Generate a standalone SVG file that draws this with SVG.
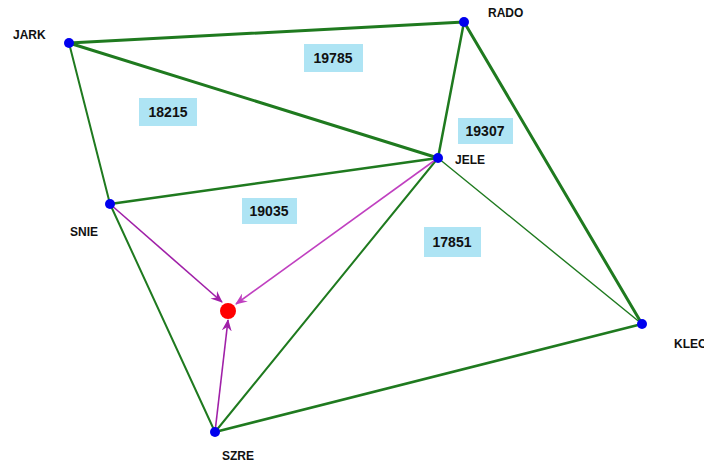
<svg xmlns="http://www.w3.org/2000/svg" width="704" height="464" viewBox="0 0 704 464">
<style>
.e{stroke:#1f7a1f;fill:none;stroke-linecap:round}
.a{fill:none;stroke-width:1.6}
.n{fill:#0000ee}
.lbl{font-family:"Liberation Sans",Arial,sans-serif;font-weight:bold;font-size:12px;fill:#111}
.box{fill:#aee4f4}
.num{font-family:"Liberation Sans",Arial,sans-serif;font-weight:bold;font-size:14px;fill:#111;text-anchor:middle}
</style>
<defs>
<marker id="ah" viewBox="0 0 12 10" refX="11" refY="5" markerWidth="12" markerHeight="10" markerUnits="userSpaceOnUse" orient="auto">
<path d="M0,0 L12,5 L0,10 L4,5 z" fill="context-stroke"/>
</marker>
<marker id="ah1" viewBox="0 0 12 10" refX="11" refY="5" markerWidth="12" markerHeight="10" markerUnits="userSpaceOnUse" orient="auto">
<path d="M0,0 L12,5 L0,10 L4,5 z" fill="#a020a8"/>
</marker>
<marker id="ah2" viewBox="0 0 12 10" refX="11" refY="5" markerWidth="12" markerHeight="10" markerUnits="userSpaceOnUse" orient="auto">
<path d="M0,0 L12,5 L0,10 L4,5 z" fill="#c040c0"/>
</marker>
</defs>
<rect width="704" height="464" fill="#fff"/>
<g id="areas">
<g id="a18215"><rect class="box" x="139" y="98" width="58" height="28"/><text class="num" x="168" y="117">18215</text></g>
<g id="a19785"><rect class="box" x="304" y="44" width="59" height="28"/><text class="num" x="333" y="63">19785</text></g>
<g id="a19307"><rect class="box" x="458" y="118" width="55" height="26"/><text class="num" x="485" y="136">19307</text></g>
<g id="a19035"><rect class="box" x="242" y="198" width="55" height="26"/><text class="num" x="269" y="216">19035</text></g>
<g id="a17851"><rect class="box" x="424" y="227" width="57" height="30"/><text class="num" x="452" y="247">17851</text></g>
</g>
<g id="connectors">
<line class="e" x1="69" y1="43" x2="464" y2="22" stroke-width="3"/>
<line class="e" x1="69" y1="43" x2="438" y2="158" stroke-width="3"/>
<line class="e" x1="69" y1="43" x2="110" y2="204" stroke-width="2"/>
<line class="e" x1="110" y1="204" x2="438" y2="158" stroke-width="2.5"/>
<line class="e" x1="464" y1="22" x2="438" y2="158" stroke-width="2.5"/>
<line class="e" x1="464" y1="22" x2="642" y2="324" stroke-width="3"/>
<line class="e" x1="438" y1="158" x2="642" y2="324" stroke-width="1.4"/>
<line class="e" x1="438" y1="158" x2="215" y2="432" stroke-width="2"/>
<line class="e" x1="110" y1="204" x2="215" y2="432" stroke-width="2"/>
<line class="e" x1="215" y1="432" x2="642" y2="324" stroke-width="2.5"/>
<line class="a" x1="110" y1="204" x2="222" y2="302" stroke="#a020a8" marker-end="url(#ah1)"/>
<line class="a" x1="438" y1="158" x2="236" y2="304" stroke="#c040c0" marker-end="url(#ah2)"/>
<line class="a" x1="215" y1="432" x2="228" y2="320" stroke="#a020a8" marker-end="url(#ah1)"/>
</g>
<g id="target"><circle cx="228" cy="311" r="8" fill="#ff0000"/></g>
<g id="JARK"><circle class="n" cx="69" cy="43" r="5"/><text class="lbl" x="13" y="39">JARK</text></g>
<g id="RADO"><circle class="n" cx="464" cy="22" r="5"/><text class="lbl" x="488" y="17">RADO</text></g>
<g id="JELE"><circle class="n" cx="438" cy="158" r="5"/><text class="lbl" x="455" y="164">JELE</text></g>
<g id="SNIE"><circle class="n" cx="110" cy="204" r="5"/><text class="lbl" x="70" y="236">SNIE</text></g>
<g id="KLEC"><circle class="n" cx="642" cy="324" r="5"/><text class="lbl" x="674" y="348">KLEC</text></g>
<g id="SZRE"><circle class="n" cx="215" cy="432" r="5"/><text class="lbl" x="222" y="460">SZRE</text></g>
</svg>
